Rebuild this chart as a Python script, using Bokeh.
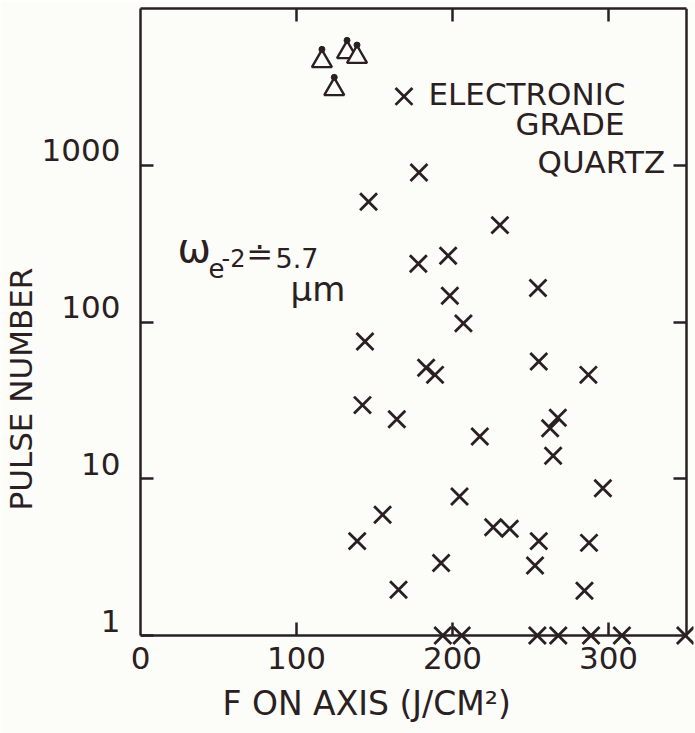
import math
from bokeh.plotting import figure
from bokeh.models import (Range1d, LogAxis, LinearAxis, FixedTicker, Label,
                          Title, CustomJSTickFormatter)
from bokeh.embed import file_html
from bokeh.resources import INLINE

INK = "#2a2022"
BG = "#fcfcf8"
FONT = "DejaVu Sans"

# Damage data: fluence on axis (J/cm^2) vs pulse number
cross_f = [168.9, 178.5, 146.2, 230.4, 197.2, 178.1, 198.3, 207.0, 254.8,
           143.9, 183.1, 188.8, 255.3, 287.1, 142.3, 164.3, 267.5, 262.6,
           217.5, 264.5, 296.4, 204.5, 155.2, 226.1, 236.7, 255.3, 287.5,
           138.9, 192.7, 252.9, 165.4, 284.6,
           193.8, 205.9, 254.4, 267.8, 288.8, 308.6, 349.3]
cross_n = [2750, 900, 585, 415, 265, 235, 147, 98, 165,
           75, 51, 46, 56, 46, 29.5, 24, 24.5, 21,
           18.6, 14, 8.7, 7.7, 5.9, 4.9, 4.8, 4.0, 3.9,
           4.0, 2.9, 2.8, 1.96, 1.93,
           1, 1, 1, 1, 1, 1, 1]
# no damage (arrow-up triangles)
tri_f = [116.3, 124.2, 132.4, 138.8]
tri_n = [4600, 3050, 5250, 4900]

x_ticks = [0, 100, 200, 300]
y_ticks = [1, 10, 100, 1000]
X_MIN, X_MAX = 0, 350
Y_MIN, Y_MAX = 1, 10000

PX_DEC = 627 / 4.0          # pixels per decade
PX_UNIT = 546 / 350.0       # pixels per J/cm^2
PAD = 11                    # room below the x axis for markers on it
FRAME_LEFT, FRAME_BOTTOM = 140, 646

p = figure(width=695, height=733,
           x_range=Range1d(X_MIN, X_MAX + 7 / PX_UNIT),
           y_range=Range1d(Y_MIN * 10 ** (-PAD / PX_DEC), Y_MAX),
           y_axis_type="log",
           output_backend="svg", toolbar_location=None,
           min_border_left=FRAME_LEFT, min_border_right=2, min_border_top=8,
           min_border_bottom=733 - FRAME_BOTTOM, background_fill_color=BG,
           border_fill_color=BG)
p.grid.visible = False
p.outline_line_color = None

BLANK = "return ''"


def line_axis(ax, ticks):
    ax.ticker = FixedTicker(ticks=ticks)
    ax.major_tick_in = 13
    ax.major_tick_out = 0
    ax.major_tick_line_width = 2.5
    ax.major_tick_line_color = INK
    ax.minor_tick_line_color = None
    ax.axis_line_color = INK
    ax.axis_line_width = 2.5
    ax.formatter = CustomJSTickFormatter(code=BLANK)
    ax.major_label_text_font_size = "1px"
    ax.major_label_standoff = 0


def label_axis(ax, ticks, standoff):
    ax.ticker = FixedTicker(ticks=ticks)
    ax.major_tick_line_color = None
    ax.minor_tick_line_color = None
    ax.axis_line_color = None
    ax.major_tick_in = 0
    ax.major_tick_out = 0
    ax.major_label_text_font = FONT
    ax.major_label_text_font_size = "31px"
    ax.major_label_text_color = INK
    ax.major_label_standoff = standoff


# bottom: labels at frame edge, line + ticks fixed at N = 1
label_axis(p.xaxis[0], x_ticks, 0)
x_line = LinearAxis(fixed_location=Y_MIN, bounds=(X_MIN, X_MAX))
line_axis(x_line, x_ticks[1:])
p.add_layout(x_line, "below")

# left: line + ticks, then tick labels sitting just above each tick
line_axis(p.yaxis[0], y_ticks)
p.yaxis[0].bounds = (Y_MIN, Y_MAX)
lift = 10 ** (15 / PX_DEC)
y_lab = LogAxis()
label_axis(y_lab, [t * lift for t in y_ticks], 20)
y_lab.formatter = CustomJSTickFormatter(
    code="return String(Math.round(Math.pow(10, Math.floor(Math.log10(tick) + 1e-9))))")
p.add_layout(y_lab, "left")

top = LinearAxis(bounds=(X_MIN, X_MAX))
line_axis(top, x_ticks[1:])
p.add_layout(top, "above")
right = LogAxis(bounds=(Y_MIN, Y_MAX), fixed_location=X_MAX)
line_axis(right, y_ticks[1:])
p.add_layout(right, "right")

p.add_layout(Title(text="PULSE NUMBER", align="left", offset=136,
                   standoff=0, text_font=FONT, text_font_size="31px",
                   text_font_style="normal", text_color=INK), "left")
p.add_layout(Title(text="F ON AXIS (J/CM²)", align="left", offset=82,
                   standoff=20, text_font=FONT, text_font_size="33px",
                   text_font_style="normal", text_color=INK), "below")

p.scatter(cross_f, cross_n, marker="x", size=24, line_color=INK,
          line_width=2.8)
p.scatter(tri_f, tri_n, marker="triangle", size=20, line_color=INK,
          line_width=2.4, fill_color=BG)
apex = 10 ** (12 / PX_DEC)
p.scatter(tri_f, [v * apex for v in tri_n], marker="circle", size=6,
          line_color=INK, fill_color=INK)


def lab(text, page_x, page_baseline, size):
    # place a text by its left edge and baseline in page pixels
    p.add_layout(Label(x=page_x - FRAME_LEFT,
                       y=FRAME_BOTTOM - page_baseline - 0.2 * size,
                       x_units="screen", y_units="screen",
                       text=text, text_font=FONT,
                       text_font_size=f"{size}px", text_color=INK))


lab("ELECTRONIC", 428, 105, 31)
lab("GRADE", 515, 135, 31)
lab("QUARTZ", 537, 173, 31)

lab("ω", 177, 262, 40)
lab("e", 208, 272, 26)
lab("-2", 221, 262, 24)
lab("≐", 246, 266, 32)
lab("5.7", 275, 262, 27)
lab("μm", 290, 302, 34)

open("out.html", "w").write(file_html(p, INLINE))
